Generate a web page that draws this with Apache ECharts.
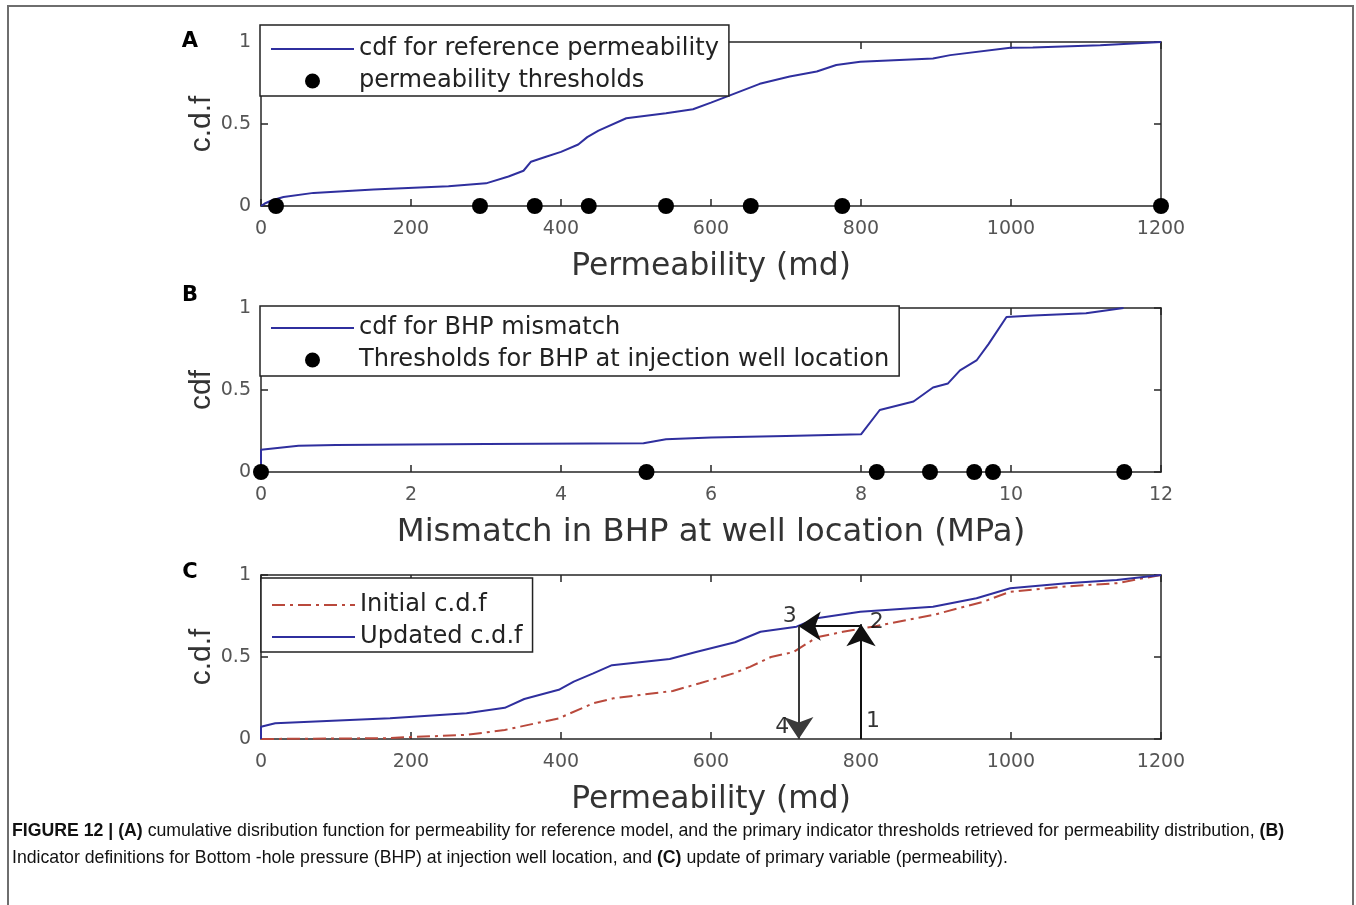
<!DOCTYPE html>
<html>
<head>
<meta charset="utf-8">
<style>
  html, body { margin: 0; padding: 0; background: #fff; }
  #chart { width: 1356px; height: 905px; }
</style>
<script src="https://cdn.jsdelivr.net/npm/echarts@6/dist/echarts.min.js"></script>
</head>
<body>
<div id="chart"></div>
<script>
// (A) reference permeability cdf and indicator thresholds
const permRefX = [0, 5, 15, 30, 70, 150, 250, 300, 330, 350, 360, 380, 400, 423, 435, 450, 487, 540, 576, 600, 620, 665, 705, 741, 767, 799, 896, 919, 999, 1029, 1119, 1200];
const permRefCdf = [0, 0.015, 0.035, 0.055, 0.08, 0.1, 0.12, 0.138, 0.18, 0.215, 0.27, 0.3, 0.33, 0.375, 0.42, 0.46, 0.535, 0.565, 0.59, 0.63, 0.665, 0.745, 0.79, 0.82, 0.86, 0.88, 0.9, 0.92, 0.965, 0.967, 0.98, 1];
const permThresholds = [20, 292, 365, 437, 540, 653, 775, 1200];

// (B) BHP mismatch cdf and thresholds
const bhpX = [0, 0, 0.5, 1, 3, 5.1, 5.4, 6, 7, 8, 8.25, 8.7, 8.96, 9.16, 9.32, 9.54, 9.7, 9.94, 10.3, 11, 11.5];
const bhpCdf = [0, 0.135, 0.16, 0.165, 0.17, 0.175, 0.2, 0.21, 0.22, 0.23, 0.378, 0.43, 0.515, 0.54, 0.62, 0.68, 0.78, 0.945, 0.955, 0.968, 1];
const bhpThresholds = [0, 5.14, 8.21, 8.92, 9.51, 9.76, 11.51];

// (C) initial and updated permeability cdf
const initX = [0, 100, 172, 190, 274, 325, 397, 443, 470, 549, 585, 630, 652, 680, 710, 741, 776, 816, 896, 963, 999, 1074, 1141, 1200];
const initCdf = [0, 0.003, 0.005, 0.01, 0.025, 0.055, 0.126, 0.218, 0.248, 0.293, 0.34, 0.4, 0.44, 0.5, 0.53, 0.62, 0.654, 0.685, 0.756, 0.837, 0.898, 0.93, 0.95, 1];
const updX = [0, 0, 19, 172, 274, 325, 351, 397, 417, 443, 468, 545, 580, 632, 666, 714, 741, 799, 896, 954, 999, 1074, 1141, 1200];
const updCdf = [0, 0.075, 0.096, 0.126, 0.157, 0.19, 0.244, 0.3, 0.35, 0.4, 0.45, 0.488, 0.53, 0.59, 0.654, 0.685, 0.736, 0.776, 0.806, 0.858, 0.919, 0.95, 0.97, 1];

// update path: 1 -> 2 -> 3 -> 4
const updateSteps = [
  [[800, 0], [800, 0.7]],
  [[800, 0.688], [717, 0.688]],
  [[717, 0.688], [717, 0]]
];
const stepColors = ['#111', '#111', '#3a3a3a'];
const stepLabels = [[816, 0.11, '1'], [821, 0.713, '2'], [705, 0.75, '3'], [695, 0.073, '4']];

const permTicks = { min: 0, max: 1200, interval: 200 };
const bhpTicks = { min: 0, max: 12, interval: 2 };
const cdfTicks = { min: 0, max: 1, interval: 0.5 };

const FONT = 'DejaVu Sans';
const AXIS_COLOR = '#262626';
const BLUE = '#2f2f9e';
const RED = '#b9493c';

const pairs = (xs, ys) => xs.map((x, i) => [x, ys[i]]);
const onAxis = xs => xs.map(x => [x, 0]);

const gridTops = [42, 308, 575];
const grids = gridTops.map(t => ({ left: 261, top: t, width: 900, height: 164, show: false }));

function xAxisPair(gi, ticks, name, nameSize) {
  const base = {
    gridIndex: gi, type: 'value', min: ticks.min, max: ticks.max, interval: ticks.interval,
    axisLine: { onZero: false, lineStyle: { color: AXIS_COLOR, width: 1.5 } },
    axisTick: { inside: true, length: 7, lineStyle: { color: AXIS_COLOR, width: 1.5 } },
    splitLine: { show: false }
  };
  return [
    Object.assign({}, base, {
      position: 'bottom',
      axisLabel: { color: '#555', fontSize: 19, fontFamily: FONT, margin: 14, formatter: v => String(v) },
      name: name, nameLocation: 'middle', nameGap: 45, nameMoveOverlap: false,
      nameTextStyle: { color: '#333', fontSize: nameSize, fontFamily: FONT }
    }),
    Object.assign({}, base, { position: 'top', axisLabel: { show: false } })
  ];
}

function yAxisPair(gi, name) {
  const base = {
    gridIndex: gi, type: 'value', min: cdfTicks.min, max: cdfTicks.max, interval: cdfTicks.interval,
    axisLine: { onZero: false, lineStyle: { color: AXIS_COLOR, width: 1.5 } },
    axisTick: { inside: true, length: 7, lineStyle: { color: AXIS_COLOR, width: 1.5 } },
    splitLine: { show: false }
  };
  return [
    Object.assign({}, base, {
      position: 'left',
      axisLabel: { color: '#555', fontSize: 19, fontFamily: FONT, margin: 10 },
      name: name, nameLocation: 'middle', nameGap: 44, nameMoveOverlap: false,
      nameTextStyle: { color: '#333', fontSize: 30, fontFamily: 'Liberation Sans' }
    }),
    Object.assign({}, base, { position: 'right', axisLabel: { show: false } })
  ];
}

const xAxes = [].concat(
  xAxisPair(0, permTicks, 'Permeability (md)', 31.3),
  xAxisPair(1, bhpTicks, 'Mismatch in BHP at well location (MPa)', 32.3),
  xAxisPair(2, permTicks, 'Permeability (md)', 31.3)
);
const yAxes = [].concat(
  yAxisPair(0, 'c.d.f'),
  yAxisPair(1, 'cdf'),
  yAxisPair(2, 'c.d.f')
);

function curve(name, axisIdx, data, color, type) {
  return {
    name: name, type: 'line', xAxisIndex: axisIdx, yAxisIndex: axisIdx,
    data: data, symbol: 'none', smooth: false, z: 3,
    lineStyle: { color: color, width: 2, type: type || 'solid' },
    itemStyle: { color: color }
  };
}
function dots(name, axisIdx, data) {
  return {
    name: name, type: 'scatter', xAxisIndex: axisIdx, yAxisIndex: axisIdx,
    data: data, symbol: 'circle', symbolSize: 16, clip: false, z: 5,
    itemStyle: { color: '#000', opacity: 1 }
  };
}

const series = [
  curve('cdf for reference permeability', 0, pairs(permRefX, permRefCdf), BLUE),
  dots('permeability thresholds', 0, onAxis(permThresholds)),
  curve('cdf for BHP mismatch', 2, pairs(bhpX, bhpCdf), BLUE),
  dots('Thresholds for BHP at injection well location', 2, onAxis(bhpThresholds)),
  curve('Initial c.d.f', 4, pairs(initX, initCdf), RED, [13, 5, 3, 5]),
  Object.assign(curve('Updated c.d.f', 4, pairs(updX, updCdf), BLUE), {
    markLine: {
      silent: true, label: { show: false },
      data: updateSteps.map((s, i) => [
        { coord: s[0], symbol: 'none', symbolSize: 0,
          lineStyle: { color: stepColors[i], width: 2, type: 'solid' } },
        { coord: s[1], symbol: 'arrow', symbolSize: 22, itemStyle: { color: '#000' } }
      ])
    }
  }),
  {
    type: 'scatter', xAxisIndex: 4, yAxisIndex: 4, symbolSize: 1, z: 6, silent: true,
    itemStyle: { color: 'rgba(0,0,0,0)' },
    data: stepLabels,
    label: { show: true, position: 'inside', formatter: p => p.value[2], color: '#000', fontSize: 22, fontFamily: FONT }
  }
];

// line entries show only their stroke in the legend
const lineEntry = name => ({ name: name, itemStyle: { opacity: 0 } });

function legendBox(items, left, top, padding) {
  return {
    data: items, orient: 'vertical', left: left, top: top, padding: padding,
    itemWidth: 83, itemHeight: 15, itemGap: 6, selectedMode: false,
    backgroundColor: '#fff', borderColor: '#222', borderWidth: 1.5, borderRadius: 0,
    textStyle: { color: '#222', fontSize: 24.1, fontFamily: FONT, lineHeight: 26 }
  };
}

const legends = [
  legendBox([lineEntry('cdf for reference permeability'), 'permeability thresholds'], 260, 25, [11, 10, 2, 10]),
  legendBox([lineEntry('cdf for BHP mismatch'), 'Thresholds for BHP at injection well location'], 260, 306, [9, 10, 3, 10]),
  legendBox([lineEntry('Initial c.d.f'), lineEntry('Updated c.d.f')], 261, 578, [14, 10, 2, 10])
];

const panelLetters = [['A', 42], ['B', 296], ['C', 573]];

const captionRich = {
  b: { fontWeight: 'bold', fontSize: 17.7, fontFamily: 'Liberation Sans', fill: '#111' },
  n: { fontSize: 17.7, fontFamily: 'Liberation Sans', fill: '#111' }
};

const graphic = [
  { type: 'rect', shape: { x: 8, y: 6, width: 1345, height: 905 }, style: { fill: 'none', stroke: '#6e6e6e', lineWidth: 2 }, silent: true }
].concat(panelLetters.map(([t, y]) => ({
  type: 'text', x: 190, y: y, silent: true,
  style: { text: t, fill: '#000', fontSize: 21, fontWeight: 'bold', fontFamily: FONT, align: 'center', verticalAlign: 'middle' }
}))).concat([
  {
    type: 'text', x: 12, y: 831, silent: true,
    style: {
      text: '{b|FIGURE 12 | (A)}{n| cumulative disribution function for permeability for reference model, and the primary indicator thresholds retrieved for permeability distribution, }{b|(B)}',
      verticalAlign: 'middle', rich: captionRich
    }
  },
  {
    type: 'text', x: 12, y: 858, silent: true,
    style: {
      text: '{n|Indicator definitions for Bottom -hole pressure (BHP) at injection well location, and }{b|(C)}{n| update of primary variable (permeability).}',
      verticalAlign: 'middle', rich: captionRich
    }
  }
]);

const chart = echarts.init(document.getElementById('chart'), null, { renderer: 'canvas' });
chart.setOption({
  animation: false,
  backgroundColor: '#fff',
  grid: grids,
  xAxis: xAxes,
  yAxis: yAxes,
  legend: legends,
  series: series,
  graphic: graphic
});
</script>
</body>
</html>
